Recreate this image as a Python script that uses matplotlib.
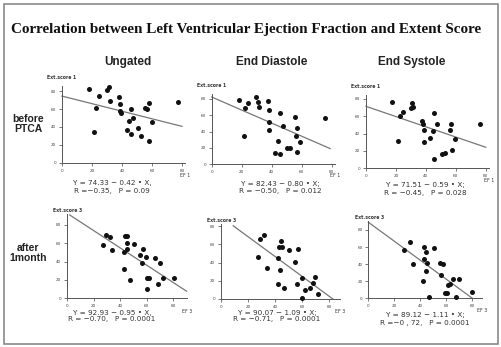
import matplotlib
matplotlib.use("Agg")
import matplotlib.pyplot as plt
from matplotlib.patches import Rectangle

W, H = 502, 347

title = "Correlation between Left Ventricular Ejection Fraction and Extent Score"
col_titles = ["Ungated", "End Diastole", "End Systole"]
row_titles = ["before\nPTCA", "after\n1month"]

# data (EF, extent score) per panel
p1_x = [17.7, 31.3, 30.2, 24.6, 22.6, 21.5, 32.0, 38.0, 38.7, 38.9, 39.1, 46.0, 47.6, 44.9, 43.1, 46.0, 50.5, 52.7, 57.7, 55.4, 56.5, 59.9, 57.9, 77.1]
p1_y = [82.2, 84.8, 81.1, 74.8, 61.4, 34.6, 69.2, 73.7, 65.5, 58.0, 55.1, 59.5, 49.5, 46.5, 36.5, 32.0, 39.1, 30.5, 67.0, 60.7, 59.5, 45.4, 24.6, 67.3]
p2_x = [18.0, 29.3, 24.4, 22.4, 30.7, 31.3, 37.3, 38.0, 38.2, 38.0, 45.3, 47.3, 55.3, 57.1, 56.2, 59.1, 44.2, 50.0, 52.0, 42.4, 45.3, 57.1, 21.3, 75.8]
p2_y = [79.2, 82.0, 75.5, 69.4, 75.9, 69.8, 77.1, 66.9, 51.8, 42.4, 63.3, 46.9, 57.6, 44.9, 34.7, 27.3, 28.6, 20.4, 19.6, 14.3, 12.2, 14.7, 34.7, 56.3]
p3_x = [17.6, 30.7, 29.8, 31.6, 24.7, 22.7, 37.6, 38.3, 38.5, 38.5, 45.7, 47.4, 44.9, 42.8, 56.8, 56.1, 59.2, 57.2, 50.8, 52.8, 45.7, 21.6, 76.2]
p3_y = [76.5, 75.8, 69.2, 70.4, 65.0, 60.0, 54.2, 51.5, 43.8, 30.8, 64.2, 50.8, 43.5, 35.0, 50.8, 44.6, 34.2, 21.2, 16.2, 18.1, 11.2, 31.9, 50.8]
p4_x = [29.3, 32.3, 27.1, 34.1, 43.6, 44.9, 45.4, 50.1, 44.9, 43.1, 42.6, 47.4, 56.9, 59.1, 54.9, 56.6, 66.2, 69.9, 60.2, 61.9, 59.9, 68.2, 72.4, 80.2]
p4_y = [69.5, 66.9, 58.2, 52.7, 68.4, 68.0, 60.0, 59.3, 53.5, 50.9, 31.6, 20.0, 53.8, 44.7, 47.3, 38.5, 43.6, 38.9, 22.2, 21.5, 9.8, 14.9, 22.2, 21.5]
p5_x = [31.9, 28.7, 44.0, 43.0, 44.9, 50.1, 57.0, 27.0, 41.8, 34.2, 43.7, 54.8, 59.7, 69.8, 67.6, 65.4, 61.9, 71.7, 60.0, 42.3, 46.9, 55.8]
p5_y = [70.1, 65.7, 63.9, 56.9, 56.9, 53.6, 54.7, 45.6, 44.9, 34.3, 31.8, 40.1, 23.0, 24.1, 17.5, 12.0, 9.9, 5.8, 0.7, 16.4, 12.0, 16.4]
p6_x = [32.4, 27.5, 34.7, 43.2, 44.5, 50.4, 42.9, 45.5, 44.5, 42.4, 47.0, 55.5, 57.3, 56.0, 65.6, 70.0, 61.7, 63.0, 59.4, 60.7, 67.6, 80.0]
p6_y = [66.4, 56.6, 40.2, 59.8, 54.7, 59.4, 46.1, 41.8, 32.4, 19.9, 2.0, 41.8, 39.8, 27.3, 23.0, 22.3, 15.2, 16.4, 6.6, 6.6, 2.0, 7.4]

intercepts = [74.33, 82.43, 71.51, 92.93, 90.07, 89.12]
slopes = [-0.42, -0.80, -0.59, -0.95, -1.09, -1.11]
eq_texts = [
    "Y = 74.33 \u2212 0.42 \u2022 X,\nR =\u22120.35,   P = 0.09",
    "Y = 82.43 \u2212 0.80 \u2022 X;\nR = \u22120.50,   P = 0.012",
    "Y = 71.51 \u2212 0.59 \u2022 X;\nR = \u22120.45,   P = 0.028",
    "Y = 92.93 \u2212 0.95 \u2022 X,\nR = \u22120.70,   P = 0.0001",
    "Y = 90.07 \u2212 1.09 \u2022 X;\nR = \u22120.71,   P = 0.0001",
    "Y = 89.12 \u2212 1.11 \u2022 X;\nR =\u22120 , 72,   P = 0.0001",
]
ylabels = ["Ext.score 1"] * 3 + ["Ext.score 3"] * 3
xlabels = ["EF 1"] * 3 + ["EF 3"] * 3
ticks = [0, 20, 40, 60, 80]
tick_labels = ["0", "20", "40", "60", "80"]

xs = [p1_x, p2_x, p3_x, p4_x, p5_x, p6_x]
ys = [p1_y, p2_y, p3_y, p4_y, p5_y, p6_y]

# layout in pixels: x0px, x80px, y0px, y80px, xmax, ymax, line x-range, ylabel y offset
layout = [
    (62, 182, 163, 91, 82, 86, (0, 80), 1.07),
    (211.7, 331.7, 164.3, 99, 82, 86, (0, 79), 1.08),
    (366, 485.7, 168.3, 99, 82, 85, (0, 80), 1.08),
    (67, 173.3, 298, 225, 90, 92, (2, 90), 1.01),
    (221, 329.3, 299, 226, 88, 82, (9, 82.6), 1.02),
    (368.3, 472, 298.3, 230, 88, 90, (0, 80.3), 1.02),
]
eq_pos = [(112, 187), (280, 188), (425, 189), (112, 316), (277, 316), (425, 319)]

fig = plt.figure(figsize=(W / 100, H / 100), dpi=100)
fig.patch.set_facecolor("white")

# frame
fig.add_artist(Rectangle((4 / W, 1 - 344 / H), 494 / W, 340 / H, transform=fig.transFigure,
                         fill=False, edgecolor="#8a8a8a", linewidth=1.2))

fig.text(246 / W, 1 - 30 / H, title, family="Liberation Serif", fontweight="bold",
         fontsize=10.9, ha="center", va="center", color="#111")
for t, cx in zip(col_titles, [128, 272, 412]):
    fig.text(cx / W, 1 - 62 / H, t, family="Liberation Sans", fontweight="bold",
             fontsize=8.5, ha="center", va="center", color="#222")
for t, cy in zip(row_titles, [124, 253]):
    fig.text(28 / W, 1 - cy / H, t, family="Liberation Sans", fontweight="bold",
             fontsize=7.5, ha="center", va="center", color="#222", linespacing=1.1)

for i in range(6):
    x0, x80, y0, y80, xmax, ymax, lr, yl = layout[i]
    sx = (x80 - x0) / 80
    sy = (y0 - y80) / 80
    left = x0 / W
    bottom = 1 - y0 / H
    ax = fig.add_axes([left, bottom, xmax * sx / W, ymax * sy / H])
    ax.set_xlim(0, xmax)
    ax.set_ylim(0, ymax)
    ax.set_facecolor("none")
    for s in ["top", "right"]:
        ax.spines[s].set_visible(False)
    for s in ["left", "bottom"]:
        ax.spines[s].set_color("#555")
        ax.spines[s].set_linewidth(0.7)
    ax.set_xticks(ticks)
    ax.set_xticklabels(tick_labels)
    ax.set_yticks(ticks)
    ax.set_yticklabels(tick_labels)
    ax.tick_params(axis="both", labelsize=3, colors="#444", length=2, width=0.5, pad=2)
    ax.scatter(xs[i], ys[i], s=13, color="#111", zorder=3, clip_on=False, linewidths=0)
    a, b = intercepts[i], slopes[i]
    ax.plot(list(lr), [a + b * lr[0], a + b * lr[1]], color="#777", lw=0.9, clip_on=False)
    ax.text(-0.12, yl, ylabels[i], transform=ax.transAxes, fontsize=3.3, fontweight="bold",
            color="#333", ha="left", va="bottom")
    ax.text(1.0, -0.13, xlabels[i], transform=ax.transAxes, fontsize=3.3,
            color="#333", ha="center", va="top")
    ex, ey = eq_pos[i]
    fig.text(ex / W, 1 - ey / H, eq_texts[i], fontsize=5.2, color="#333",
             ha="center", va="center", linespacing=1.2)

fig.savefig("out.png", dpi=100, facecolor="white")
